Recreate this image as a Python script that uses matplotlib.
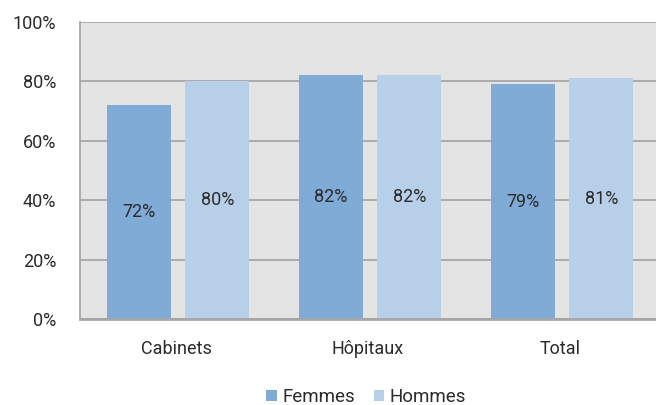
import numpy as np
import matplotlib.pyplot as plt

plt.rcParams['font.family'] = ['Roboto', 'DejaVu Sans']

categories = ['Cabinets', 'Hôpitaux', 'Total']
femmes = [72, 82, 79]
hommes = [80, 82, 81]
series_names = ['Femmes', 'Hommes']
yticks = [0, 20, 40, 60, 80, 100]

col_f = '#80abd7'
col_h = '#b8cfea'
txt = '#2b2b2b'

fig = plt.figure(figsize=(6.56, 4.05), dpi=100)
ax = fig.add_axes([80 / 656, 1 - 319 / 405, 576 / 656, 297 / 405])
ax.set_facecolor('#e4e4e4')

x = np.arange(len(categories))
w = 0.333
b1 = ax.bar(x - 0.195, femmes, w, color=col_f, label=series_names[0], zorder=3)
b2 = ax.bar(x + 0.215, hommes, w, color=col_h, label=series_names[1], zorder=3)

for bars, vals in ((b1, femmes), (b2, hommes)):
    for b, v in zip(bars, vals):
        ax.text(b.get_x() + b.get_width() / 2, v / 2, f'{v}%', ha='center', va='center',
                fontsize=13, color=txt, zorder=4)

ax.set_xlim(-0.5, 2.5)
ax.set_ylim(0, 100)
ax.set_yticks(yticks)
ax.set_yticklabels([f'{t}%' for t in yticks], fontsize=13, color=txt)
ax.set_xticks(x)
ax.set_xticklabels(categories, fontsize=13, color=txt)
ax.tick_params(axis='both', length=0)
ax.tick_params(axis='y', pad=17)
ax.tick_params(axis='x', pad=15)
ax.grid(axis='y', color='#a6a6a6', linewidth=1.3, zorder=1)

for s in ('top', 'right'):
    ax.spines[s].set_visible(False)
ax.spines['left'].set_color('#a6a6a6')
ax.spines['left'].set_linewidth(1.3)
ax.spines['bottom'].set_color('#a6a6a6')
ax.spines['bottom'].set_linewidth(2)
ax.spines['bottom'].set_zorder(5)

fig.legend(loc='center', bbox_to_anchor=(366 / 656, 1 - 397 / 405), ncol=2, frameon=False,
           fontsize=13.5, handlelength=0.55, handleheight=0.55, handletextpad=0.3,
           columnspacing=1.0, labelcolor=txt)

fig.savefig('out.png', dpi=100)
